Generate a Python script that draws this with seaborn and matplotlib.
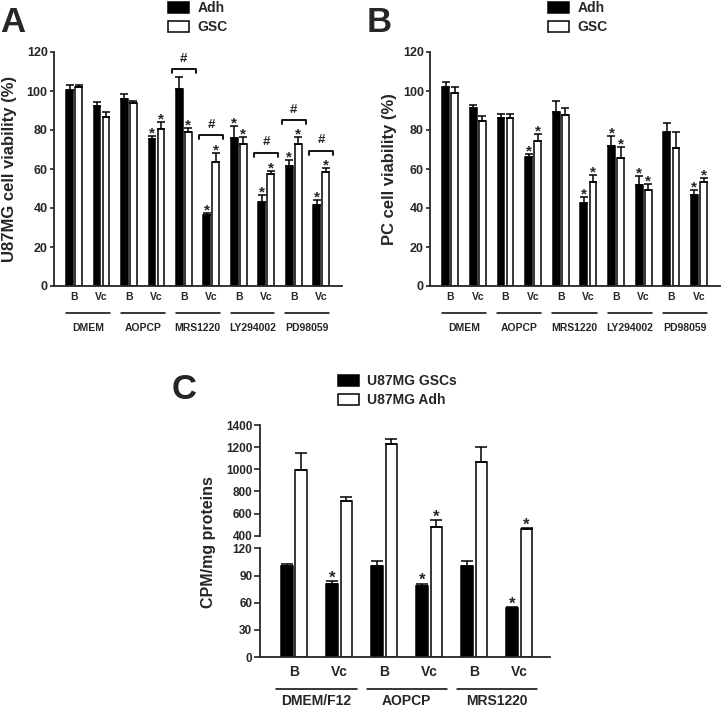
import matplotlib
matplotlib.use('Agg')
import matplotlib.pyplot as plt
import matplotlib.transforms as mtransforms
from matplotlib.patches import Patch
import pandas as pd
import seaborn as sns

# ---- data ----
treatments = ['B', 'Vc']
ab_conditions = ['DMEM', 'AOPCP', 'MRS1220', 'LY294002', 'PD98059']

# panel A: U87MG viability (%)
u87_adh = [100.3, 92.2, 95.8, 75.4, 101.0, 36.2, 75.7, 43.1, 61.5, 41.7]
u87_adh_err = [2.9, 2.2, 2.7, 1.7, 6.2, 1.4, 6.3, 3.7, 3.0, 2.4]
u87_gsc = [102.0, 86.7, 94.0, 80.5, 78.8, 63.5, 72.8, 57.2, 73.0, 58.5]
u87_gsc_err = [1.0, 2.3, 1.0, 3.7, 2.4, 4.9, 3.5, 2.0, 3.3, 2.2]
u87_adh_star = [0, 0, 0, 1, 0, 1, 1, 1, 1, 1]
u87_gsc_star = [0, 0, 0, 1, 1, 1, 1, 1, 1, 1]
u87_hash_pos = [4, 5, 7, 8, 9]
u87_hash_y = [111.1, 77.4, 68.4, 85.1, 69.4]

# panel B: PC viability (%)
pc_adh = [102.1, 91.1, 86.0, 66.4, 89.2, 42.5, 71.8, 51.6, 79.0, 46.5]
pc_adh_err = [2.4, 1.8, 2.0, 1.2, 5.9, 3.3, 5.0, 4.7, 4.6, 2.9]
pc_gsc = [99.2, 84.8, 86.1, 74.2, 87.7, 53.4, 65.5, 49.4, 70.8, 53.1]
pc_gsc_err = [3.1, 2.3, 1.9, 3.6, 3.7, 3.6, 5.8, 3.0, 8.2, 2.2]
pc_adh_star = [0, 0, 0, 1, 0, 1, 1, 1, 0, 1]
pc_gsc_star = [0, 0, 0, 1, 0, 1, 1, 1, 0, 1]

# panel C: CPM/mg proteins
c_conditions = ['DMEM/F12', 'AOPCP', 'MRS1220']
cpm_gsc = [100.0, 81.0, 100.0, 78.3, 100.0, 54.0]
cpm_gsc_err = [2.5, 2.7, 6.0, 2.5, 5.7, 0.8]
cpm_adh = [991, 715, 1230, 479, 1067, 464]
cpm_adh_err = [157, 37, 46, 60, 130, 6]
cpm_gsc_star = [0, 1, 0, 1, 0, 1]
cpm_adh_star = [0, 0, 0, 1, 0, 1]

W, H = 722, 707


def fig_rect(left, top, right, bottom):
    # pixel box -> figure fraction
    return [left / W, 1 - bottom / H, (right - left) / W, (bottom - top) / H]


def draw_bars(ax, conditions, black, black_err, white, white_err, black_star, white_star,
              labels, width, gap, capsize, star_size, star_off):
    positions = [f"{c}\n{t}" for c in conditions for t in treatments]
    n = len(positions)
    df = pd.DataFrame({
        'pos': positions * 2,
        'cell': [labels[0]] * n + [labels[1]] * n,
        'value': list(black) + list(white),
    })
    sns.barplot(data=df, x='pos', y='value', hue='cell', order=positions,
                hue_order=labels, palette=['black', 'white'], edgecolor='black',
                linewidth=1.1, width=width, gap=gap, errorbar=None, legend=False,
                saturation=1, ax=ax)
    for container, errs, stars in zip(ax.containers, [black_err, white_err],
                                      [black_star, white_star]):
        for bar, e, s in zip(container, errs, stars):
            cx = bar.get_x() + bar.get_width() / 2
            top = bar.get_height()
            ax.errorbar(cx, top, yerr=[[0], [e]], fmt='none', ecolor='black',
                        elinewidth=1.1, capsize=capsize, capthick=1.1, zorder=3)
            if s:
                ax.annotate('*', (cx, top + e), xytext=(0, star_off),
                            textcoords='offset points', ha='center', va='baseline',
                            fontsize=star_size, fontweight='bold', annotation_clip=False)
    ax.set_xlabel('')
    ax.set_ylabel('')


def group_labels(ax, conditions, line_y, text_y, half, fontsize, tick_pad):
    ax.set_xticks(range(len(conditions) * 2))
    ax.set_xticklabels(treatments * len(conditions), fontsize=fontsize)
    ax.tick_params(axis='x', length=0, pad=tick_pad)
    trans = mtransforms.blended_transform_factory(ax.transData, ax.transAxes)
    for i, cond in enumerate(conditions):
        ax.plot([2 * i - half, 2 * i + 1 + half], [line_y, line_y], color='black',
                lw=1.1, transform=trans, clip_on=False)
        ax.text(2 * i + 0.5, text_y, cond, transform=trans, ha='center', va='center',
                fontsize=fontsize, fontweight='bold')


def viability_panel(ax, adh, adh_err, gsc, gsc_err, adh_star, gsc_star):
    draw_bars(ax, ab_conditions, adh, adh_err, gsc, gsc_err, adh_star, gsc_star,
              ['Adh', 'GSC'], width=0.66, gap=0.26, capsize=3.2, star_size=11, star_off=-1.2)
    ax.set_ylim(0, 120)
    ax.set_yticks(range(0, 121, 20))
    ax.set_xlim(-0.73, 9.76)
    ax.tick_params(axis='y', labelsize=9, length=3, width=1.2, pad=1.5)
    group_labels(ax, ab_conditions, -0.115, -0.179, 0.3, 7.5, 4.2)
    sns.despine(ax=ax)


sns.set_style('ticks')
plt.rcParams['font.family'] = ['Liberation Sans', 'DejaVu Sans']
plt.rcParams['font.weight'] = 'bold'
plt.rcParams['axes.linewidth'] = 1.3

fig = plt.figure(figsize=(W / 100, H / 100), dpi=100)

ax_a = fig.add_axes(fig_rect(54, 52, 342, 286))
ax_b = fig.add_axes(fig_rect(430, 52, 720, 286))
ax_c_low = fig.add_axes(fig_rect(260, 535.7, 550, 657))
ax_c_up = fig.add_axes(fig_rect(260, 425, 550, 535.7), sharex=ax_c_low)

# panel A
viability_panel(ax_a, u87_adh, u87_adh_err, u87_gsc, u87_gsc_err, u87_adh_star, u87_gsc_star)
for x, y in zip(u87_hash_pos, u87_hash_y):
    ax_a.plot([x - 0.44, x - 0.44, x + 0.44, x + 0.44], [y - 2, y, y, y - 2],
              color='black', lw=1.3, clip_on=False)
    ax_a.annotate('#', (x, y), xytext=(0, 7.5), textcoords='offset points',
                  ha='center', va='center', fontsize=9.5, fontweight='bold')

# panel B
viability_panel(ax_b, pc_adh, pc_adh_err, pc_gsc, pc_gsc_err, pc_adh_star, pc_gsc_star)

# panel C (broken y axis): black bars live in the lower part, white ones in the upper
no_stars = [0] * len(cpm_gsc)
draw_bars(ax_c_low, c_conditions, cpm_gsc, cpm_gsc_err, cpm_adh, cpm_adh_err,
          cpm_gsc_star, no_stars, ['U87MG GSCs', 'U87MG Adh'],
          width=0.64, gap=0.2, capsize=4.5, star_size=12, star_off=-1.0)
draw_bars(ax_c_up, c_conditions, cpm_gsc, cpm_gsc_err, cpm_adh, cpm_adh_err,
          no_stars, cpm_adh_star, ['U87MG GSCs', 'U87MG Adh'],
          width=0.64, gap=0.2, capsize=4.5, star_size=12, star_off=-1.0)
for ax in [ax_c_low, ax_c_up]:
    ax.tick_params(axis='y', labelsize=8.5, length=4, width=1.2, pad=1.5)
ax_c_low.set_ylim(0, 134)
ax_c_low.set_yticks(range(0, 121, 30))
ax_c_low.spines['left'].set_bounds(0, 120)
ax_c_low.set_xlim(-0.754, 5.68)
sns.despine(ax=ax_c_low)
group_labels(ax_c_low, c_conditions, -0.262, -0.36, 0.39, 10, 5.5)

ax_c_up.set_ylim(400, 1400)
ax_c_up.set_yticks(range(400, 1401, 200))
ax_c_up.tick_params(axis='x', bottom=False, labelbottom=False)
sns.despine(ax=ax_c_up, bottom=True)
ax_c_up.patch.set_alpha(0)

# axis titles
fig.text(10 / W, 1 - 169 / H, 'U87MG cell viability (%)', rotation=90,
         ha='center', va='center', fontsize=12, fontweight='bold')
fig.text(390 / W, 1 - 169 / H, 'PC cell viability (%)', rotation=90,
         ha='center', va='center', fontsize=12, fontweight='bold')
fig.text(208 / W, 1 - 542 / H, 'CPM/mg proteins', rotation=90,
         ha='center', va='center', fontsize=11.5, fontweight='bold')

# panel letters
fig.text(0 / W, 1 - 32 / H, 'A', fontsize=25, fontweight='bold', va='baseline')
fig.text(367 / W, 1 - 32 / H, 'B', fontsize=25, fontweight='bold', va='baseline')
fig.text(172 / W, 1 - 399 / H, 'C', fontsize=25, fontweight='bold', va='baseline')

# legends
def add_legend(labels, x_px, y_px, fontsize):
    handles = [Patch(facecolor='black', edgecolor='black', lw=1.1),
               Patch(facecolor='white', edgecolor='black', lw=1.1)]
    fig.legend(handles=handles, labels=labels, loc='upper left',
               bbox_to_anchor=(x_px / W, 1 - y_px / H), frameon=False,
               fontsize=fontsize, handlelength=1.5, handleheight=0.85,
               handletextpad=0.6, labelspacing=0.35, borderpad=0, borderaxespad=0)

add_legend(['Adh', 'GSC'], 168, 1, 10)
add_legend(['Adh', 'GSC'], 548, 1, 10)
add_legend(['U87MG GSCs', 'U87MG Adh'], 338, 374, 10)

fig.savefig('out.png', dpi=100)
plt.close(fig)
